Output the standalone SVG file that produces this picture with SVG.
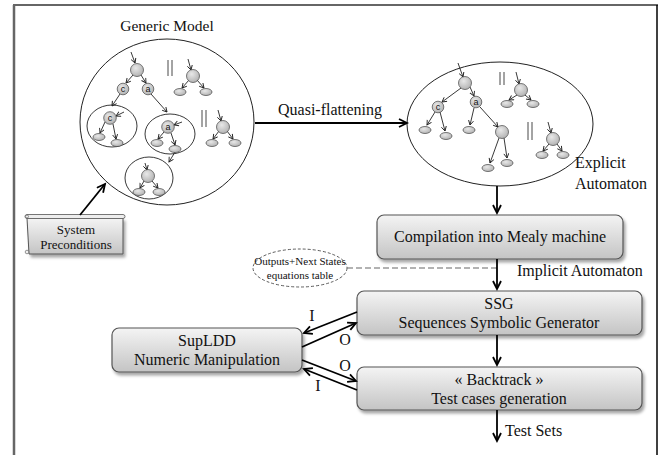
<svg xmlns="http://www.w3.org/2000/svg" width="670" height="455" viewBox="0 0 670 455">
<defs>
<linearGradient id="boxg" x1="0" y1="0" x2="0" y2="1">
<stop offset="0" stop-color="#f4f4f4"/><stop offset="1" stop-color="#c4c4c4"/>
</linearGradient>
<radialGradient id="nodeg" cx="0.4" cy="0.35" r="0.7">
<stop offset="0" stop-color="#e8e8e8"/><stop offset="1" stop-color="#b0b0b0"/>
</radialGradient>
<filter id="sh" x="-10%" y="-10%" width="125%" height="140%">
<feDropShadow dx="2" dy="3" stdDeviation="1.5" flood-color="#000" flood-opacity="0.35"/>
</filter>
<marker id="arr" markerUnits="userSpaceOnUse" markerWidth="12" markerHeight="12" refX="9" refY="5" orient="auto">
<path d="M1,1 L9,5 L1,9" fill="none" stroke="#000" stroke-width="1.8"/>
</marker>
<marker id="sa" markerUnits="userSpaceOnUse" markerWidth="8" markerHeight="8" refX="5" refY="3" orient="auto">
<path d="M0.5,0.5 L5,3 L0.5,5.5" fill="none" stroke="#222" stroke-width="0.9"/>
</marker>
</defs>
<style>
text{font-family:"Liberation Serif","DejaVu Serif",serif;fill:#111}
.box{fill:url(#boxg);stroke:#555;stroke-width:1.2;filter:url(#sh)}
.bt{font-size:16px;text-anchor:middle}
.lbl{font-size:16px}
.big{fill:none;stroke:#222;stroke-width:1}
.sub{fill:none;stroke:#222;stroke-width:0.9}
.n{fill:url(#nodeg);stroke:#444;stroke-width:0.7}
.e{fill:url(#nodeg);stroke:#444;stroke-width:0.7}
.t{stroke:#222;stroke-width:0.9;fill:none;marker-end:url(#sa)}
.par{stroke:#333;stroke-width:0.9}
.nl{font-size:9px;text-anchor:middle;font-family:"Liberation Sans",Arial,sans-serif}
.con{stroke:#000;stroke-width:1.8;fill:none;marker-end:url(#arr)}
</style>
<rect width="670" height="455" fill="#fff"/>
<g id="frame">
<line x1="14" y1="5" x2="14" y2="455" stroke="#666" stroke-width="2.5"/>
<line x1="13" y1="5" x2="658" y2="5" stroke="#666" stroke-width="2"/>
<line x1="657" y1="5" x2="657" y2="455" stroke="#000" stroke-width="1.5"/>
</g>

<g id="generic-model">
<text x="167" y="31" font-size="15.5" text-anchor="middle">Generic Model</text>
<ellipse class="big" cx="167" cy="122" rx="87" ry="83"/>
<ellipse class="sub" cx="112" cy="126" rx="25" ry="21"/>
<ellipse class="sub" cx="170" cy="134" rx="25" ry="20"/>
<ellipse class="sub" cx="149" cy="178" rx="24" ry="21"/>
<path class="t" d="M131,52 L135,63"/>
<path class="t" d="M133,75 L126,83"/>
<path class="t" d="M141,75 L146,83"/>
<path class="t" d="M120,94 L112,106"/>
<path class="t" d="M151,94 L167,112"/>
<path class="t" d="M105,122 L100,133"/>
<path class="t" d="M113,124 L116,139"/>
<path class="t" d="M124,112 L116,116"/>
<path class="t" d="M164,132 L158,139"/>
<path class="t" d="M171,133 L175,145"/>
<path class="t" d="M182,122 L174,125"/>
<path class="t" d="M175,152 L169,162"/>
<path class="t" d="M145,163 L147,170"/>
<path class="t" d="M144,181 L140,188"/>
<path class="t" d="M152,181 L158,188"/>
<path class="t" d="M188,59 L191,70"/>
<path class="t" d="M189,80 L182,88"/>
<path class="t" d="M197,80 L204,88"/>
<path class="t" d="M218,110 L221,121"/>
<path class="t" d="M219,131 L213,139"/>
<path class="t" d="M227,131 L233,139"/>
<line class="par" x1="168" y1="60" x2="168" y2="76"/>
<line class="par" x1="172" y1="60" x2="172" y2="76"/>
<line class="par" x1="202" y1="110" x2="202" y2="127"/>
<line class="par" x1="206" y1="110" x2="206" y2="127"/>
<circle class="n" cx="137" cy="70" r="6.5"/>
<circle class="n" cx="123" cy="89" r="5.8"/><text class="nl" x="123" y="92">c</text>
<circle class="n" cx="148" cy="89" r="5.8"/><text class="nl" x="148" y="92">a</text>
<circle class="n" cx="110" cy="118" r="6.3"/><text class="nl" x="110" y="121">c</text>
<ellipse class="e" cx="99" cy="137" rx="6" ry="3.5"/>
<ellipse class="e" cx="117" cy="143" rx="6" ry="3.5"/>
<circle class="n" cx="168" cy="127" r="6.3"/><text class="nl" x="168" y="130">a</text>
<ellipse class="e" cx="157" cy="143" rx="6" ry="3.5"/>
<ellipse class="e" cx="175" cy="149" rx="6" ry="3.5"/>
<circle class="n" cx="148" cy="176" r="6.5"/>
<ellipse class="e" cx="139" cy="192" rx="6" ry="3.5"/>
<ellipse class="e" cx="159" cy="192" rx="6" ry="3.5"/>
<circle class="n" cx="193" cy="76" r="6.5"/>
<ellipse class="e" cx="180" cy="92" rx="6" ry="3.5"/>
<ellipse class="e" cx="206" cy="92" rx="6" ry="3.5"/>
<circle class="n" cx="223" cy="127" r="6.5"/>
<ellipse class="e" cx="212" cy="143" rx="6" ry="3.5"/>
<ellipse class="e" cx="235" cy="143" rx="6" ry="3.5"/>
</g>

<g id="explicit-automaton">
<ellipse class="big" cx="500" cy="124" rx="93" ry="62"/>
<path class="t" d="M458,63 L463,77"/>
<path class="t" d="M461,88 L442,102"/>
<path class="t" d="M470,87 L474,96"/>
<path class="t" d="M435,112 L427,125"/>
<path class="t" d="M440,112 L445,131"/>
<path class="t" d="M474,108 L470,125"/>
<path class="t" d="M480,107 L498,127"/>
<path class="t" d="M499,138 L490,163"/>
<path class="t" d="M504,138 L507,158"/>
<path class="t" d="M516,72 L519,84"/>
<path class="t" d="M517,95 L509,100"/>
<path class="t" d="M525,95 L531,100"/>
<path class="t" d="M548,122 L551,133"/>
<path class="t" d="M549,144 L543,151"/>
<path class="t" d="M557,144 L562,151"/>
<line class="par" x1="500" y1="72" x2="500" y2="85"/>
<line class="par" x1="504" y1="72" x2="504" y2="85"/>
<line class="par" x1="528" y1="122" x2="528" y2="140"/>
<line class="par" x1="532" y1="122" x2="532" y2="140"/>
<circle class="n" cx="465" cy="83" r="6.5"/>
<circle class="n" cx="438" cy="107" r="5.8"/><text class="nl" x="438" y="110">c</text>
<circle class="n" cx="476" cy="102" r="5.8"/><text class="nl" x="476" y="105">a</text>
<ellipse class="e" cx="425" cy="130" rx="6" ry="3.5"/>
<ellipse class="e" cx="446" cy="136" rx="6" ry="3.5"/>
<ellipse class="e" cx="469" cy="130" rx="6" ry="3.5"/>
<circle class="n" cx="502" cy="132" r="6.5"/>
<ellipse class="e" cx="488" cy="168" rx="6" ry="3.5"/>
<ellipse class="e" cx="507" cy="163" rx="6" ry="3.5"/>
<circle class="n" cx="521" cy="90" r="6.5"/>
<ellipse class="e" cx="507" cy="104" rx="6" ry="3.5"/>
<ellipse class="e" cx="533" cy="104" rx="6" ry="3.5"/>
<circle class="n" cx="553" cy="139" r="6.5"/>
<ellipse class="e" cx="542" cy="155" rx="6" ry="3.5"/>
<ellipse class="e" cx="563" cy="155" rx="6" ry="3.5"/>
<text class="lbl" x="575" y="168">Explicit</text>
<text class="lbl" x="575" y="189">Automaton</text>
</g>

<g id="system-preconditions">
<path d="M27,218 L123,218 L123,254 L29,254 Z" fill="url(#boxg)" stroke="#555" stroke-width="1" filter="url(#sh)"/>
<rect x="25" y="214.5" width="100" height="4" rx="2" fill="#eee" stroke="#555" stroke-width="0.8"/>
<circle cx="27" cy="216.5" r="1.5" fill="#eee" stroke="#555" stroke-width="0.6"/>
<circle cx="27" cy="252" r="1.8" fill="#eee" stroke="#555" stroke-width="0.6"/>
<text x="76" y="234" font-size="13" text-anchor="middle">System</text>
<text x="76" y="249" font-size="13" text-anchor="middle">Preconditions</text>
</g>

<g id="compilation">
<rect class="box" x="377" y="215" width="246" height="44" rx="7"/>
<text class="bt" x="500" y="242">Compilation into Mealy machine</text>
</g>

<g id="equations-table">
<ellipse cx="300" cy="268" rx="47" ry="19" fill="#fff" stroke="#333" stroke-width="0.8" stroke-dasharray="3,2"/>
<text x="300" y="265" font-size="11" text-anchor="middle">Outputs+Next States</text>
<text x="300" y="279" font-size="11" text-anchor="middle">equations table</text>
</g>

<g id="ssg">
<rect class="box" x="357" y="291" width="285" height="44" rx="7"/>
<text class="bt" x="499" y="309">SSG</text>
<text class="bt" x="499" y="328">Sequences Symbolic Generator</text>
</g>

<g id="backtrack">
<rect class="box" x="357" y="367" width="285" height="43" rx="7"/>
<text class="bt" x="499" y="385">« Backtrack »</text>
<text class="bt" x="499" y="404">Test cases generation</text>
</g>

<g id="supldd">
<rect class="box" x="112" y="328" width="190" height="44" rx="7"/>
<text class="bt" x="207" y="346">SupLDD</text>
<text class="bt" x="207" y="365">Numeric Manipulation</text>
</g>

<g id="connectors">
<line class="con" x1="255" y1="123" x2="407" y2="123"/>
<line class="con" x1="80" y1="215" x2="105" y2="184"/>
<line class="con" x1="497" y1="186" x2="497" y2="213"/>
<line x1="347" y1="268" x2="497" y2="268" stroke="#666" stroke-width="1.2" stroke-dasharray="6,3"/>
<line class="con" x1="497" y1="259" x2="497" y2="289"/>
<line class="con" x1="497" y1="335" x2="497" y2="365"/>
<line class="con" x1="497" y1="410" x2="497" y2="441"/>
<line class="con" x1="357" y1="312" x2="304" y2="333"/>
<line class="con" x1="302" y1="347" x2="356" y2="323"/>
<line class="con" x1="302" y1="360" x2="356" y2="381"/>
<line class="con" x1="357" y1="390" x2="304" y2="369"/>
<text class="lbl" x="330" y="115" text-anchor="middle">Quasi-flattening</text>
<text class="lbl" x="517" y="276">Implicit Automaton</text>
<text class="lbl" x="505" y="436">Test Sets</text>
<text class="lbl" x="312" y="321" text-anchor="middle">I</text>
<text class="lbl" x="345" y="345" text-anchor="middle">O</text>
<text class="lbl" x="345" y="371" text-anchor="middle">O</text>
<text class="lbl" x="318" y="391" text-anchor="middle">I</text>
</g>
</svg>
